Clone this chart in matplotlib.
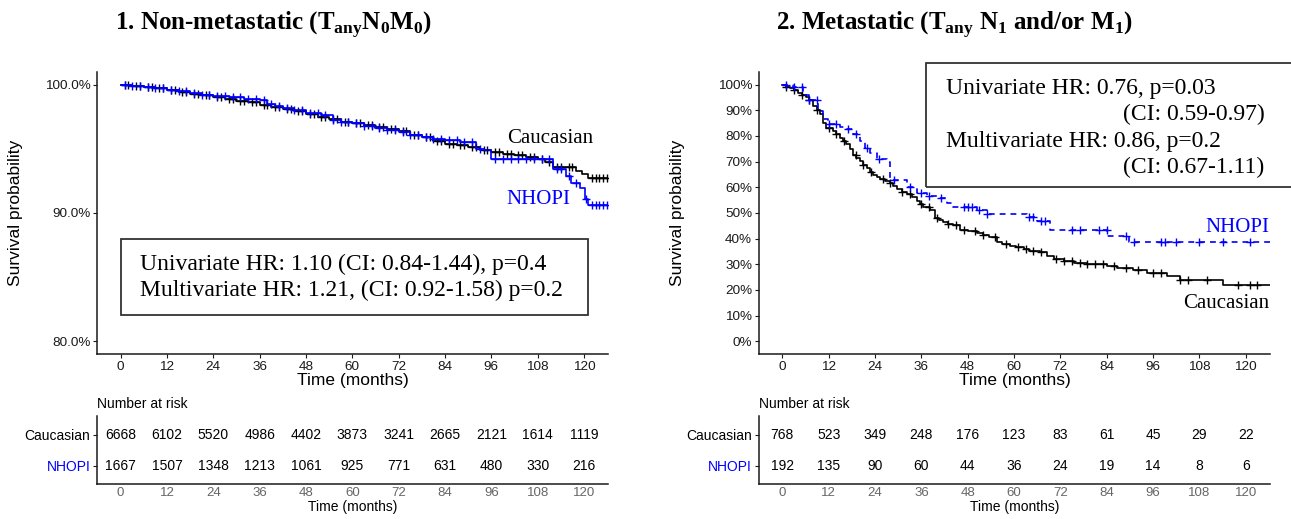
import numpy as np
import matplotlib
matplotlib.use('Agg')
import matplotlib.pyplot as plt
from matplotlib.patches import Rectangle

plt.rcParams['font.family'] = ['Liberation Sans', 'DejaVu Sans']
plt.rcParams['mathtext.fontset'] = 'custom'
plt.rcParams['mathtext.rm'] = 'Liberation Serif'
plt.rcParams['mathtext.bf'] = 'Liberation Serif:bold'

# ---------------- data ----------------
months = [0, 12, 24, 36, 48, 60, 72, 84, 96, 108, 120]
groups = ['Caucasian', 'NHOPI']

# panel 1: non-metastatic, survival in %
t_cau1 = [0, 3, 6, 9, 12, 15, 18, 21, 24, 27, 30, 33, 36, 39, 42, 45, 48, 51, 54, 57,
          60, 63, 66, 69, 72, 75, 78, 81, 84, 87, 90, 93, 96, 99, 102, 105, 108, 110,
          112, 118, 119.5, 121]
s_cau1 = [100, 99.9, 99.8, 99.7, 99.6, 99.45, 99.3, 99.15, 99.0, 98.9, 98.75, 98.6, 98.4,
          98.25, 98.1, 97.9, 97.7, 97.5, 97.3, 97.1, 97.0, 96.85, 96.7, 96.5, 96.35, 96.1,
          95.9, 95.6, 95.4, 95.25, 95.1, 94.9, 94.75, 94.6, 94.5, 94.35, 94.2, 94.0,
          93.6, 93.3, 93.0, 92.7]
t_nh1 = [0, 3, 6, 9, 12, 15, 18, 21, 24, 28, 32, 36, 38, 40, 42, 45, 48, 52, 55, 57, 60,
         63, 66, 69, 72, 75, 78, 81, 84, 88, 92, 94, 96, 112, 115.4, 116.7, 118.9, 120.2, 121]
s_nh1 = [100, 99.9, 99.8, 99.7, 99.6, 99.5, 99.35, 99.2, 99.1, 99.0, 98.9, 98.8, 98.5,
         98.35, 98.2, 98.0, 97.8, 97.6, 97.2, 97.1, 97.0, 96.8, 96.6, 96.45, 96.3, 96.1,
         95.9, 95.75, 95.65, 95.5, 95.0, 94.9, 94.2, 93.45, 92.9, 92.3, 91.9, 91.1, 90.6]
c_cau1 = [1, 2, 4, 5, 7, 8, 10, 11, 13, 14, 16, 17, 19, 20, 22, 23, 25, 26, 28, 29, 31, 32,
          34, 35, 37, 38, 40, 41, 43, 44, 46, 47, 49, 50, 52, 53, 55, 56, 58, 59, 61, 62,
          64, 65, 67, 68, 70, 71, 73, 74, 76, 77, 79, 80, 82, 83, 85, 86, 88, 89, 91, 92,
          94, 95, 97, 98, 100, 101, 103, 104, 106, 107, 109, 111, 113, 114, 116, 117,
          122, 123, 124, 125, 126]
c_nh1 = [1, 3, 5, 7, 9, 11, 13, 15, 17, 19, 21, 23, 25, 27, 29, 31, 33, 35, 37, 39, 41,
         43, 45, 47, 49, 51, 53, 55, 57, 59, 61, 63, 65, 67, 69, 71, 73, 75, 77, 79, 81,
         83, 85, 87, 89, 91, 93, 97, 99, 101, 103, 105, 107, 109, 111, 113, 114, 116,
         118, 120.5, 122, 123, 124, 125, 126]
risk_cau1 = [6668, 6102, 5520, 4986, 4402, 3873, 3241, 2665, 2121, 1614, 1119]
risk_nh1 = [1667, 1507, 1348, 1213, 1061, 925, 771, 631, 480, 330, 216]

# panel 2: metastatic, survival in %
t_cau2 = [0, 1, 2, 3, 4, 5, 6, 7, 8, 9, 9.7, 10.5, 11.4, 13.1, 14, 14.8, 15.6, 16.5,
          17.4, 18.3, 19.1, 20, 21, 21.8, 22.6, 23.5, 24.4, 25.2, 26.5, 27.8, 28.7, 29.6,
          31, 32.2, 33.5, 34.8, 35.6, 36.5, 38.3, 39.6, 40.5, 41.7, 43, 44.3, 46.1, 48,
          50.4, 52, 53.4, 55.6, 57, 59, 60.5, 62.5, 64, 66.8, 68.6, 70.3, 72.9, 75.5, 79,
          84, 86.6, 90.9, 94.4, 99.5, 103, 114.2]
s_cau2 = [100, 99.2, 98.5, 97.8, 96.8, 95.8, 95.1, 93.8, 91.8, 90.0, 88.5, 85.2, 83.2,
          81.9, 80.6, 79.3, 78.0, 76.7, 74.7, 72.7, 71.4, 70.1, 68.7, 67.4, 66.1, 64.8,
          63.9, 63.1, 62.3, 61.5, 60.3, 59.1, 58.2, 57.3, 56.0, 54.7, 53.5, 52.3, 51.2,
          48.1, 47.2, 46.4, 45.7, 45.1, 43.5, 42.8, 42.1, 41.2, 40.4, 38.5, 37.9, 37.2,
          36.5, 35.8, 35.3, 34.9, 33.2, 32.1, 31.2, 30.3, 29.9, 29.2, 28.6, 27.9, 26.6,
          25.3, 24.0, 22.0]
t_nh2 = [0, 2.85, 5.4, 7, 9.2, 10.5, 11.8, 14.8, 16.5, 18.3, 20, 21.3, 22.6, 24.4, 27,
         27.8, 32.2, 34.8, 37.4, 40, 42.6, 44.3, 50.4, 53, 63.3, 65.9, 69.4, 84.1, 89.8]
s_nh2 = [100, 98.9, 95.8, 93.8, 89.8, 86.6, 84.8, 83.6, 82.6, 80.6, 78, 75.3, 73.4, 71.1,
         69.8, 62.8, 60.2, 57.6, 56.5, 55.6, 53.9, 52.3, 51.0, 49.6, 48.3, 46.8, 43.5,
         41.1, 38.5]
c_cau2 = [1, 3, 5, 7, 9, 12, 14, 16, 19, 21, 23, 26, 28, 31, 33, 36, 38, 40, 43, 45, 47,
          50, 52, 55, 58, 61, 63, 65, 67, 71, 73, 75, 77, 79, 81, 83, 86, 89, 92, 96, 98,
          103, 105, 110, 118, 121, 123]
c_nh2 = [1, 3, 5, 7, 9, 12, 14, 17, 19, 22, 25, 29, 33, 36, 38, 41, 47, 48, 49, 51, 53,
         64, 65, 67, 68, 75, 77, 82, 84, 89, 91, 98, 99, 102, 108, 114, 121]
risk_cau2 = [768, 523, 349, 248, 176, 123, 83, 61, 45, 29, 22]
risk_nh2 = [192, 135, 90, 60, 44, 36, 24, 19, 14, 8, 6]

# ---------------- layout helpers (pixel positions) ----------------
W, H = 1291, 519
fig = plt.figure(figsize=(W / 100, H / 100), dpi=100)


def fx(x):
    return x / W


def fy(y):
    return 1 - y / H


XMIN, XMAX = -6.05, 126.3
AX_TOP, AX_BOT = 71.7, 354
TB_TOP, TB_BOT = 415.7, 484
AX_W = 511


def style_axes(ax):
    for sp in ['top', 'right']:
        ax.spines[sp].set_visible(False)
    for sp in ['left', 'bottom']:
        ax.spines[sp].set_linewidth(1.1)
        ax.spines[sp].set_color('#1a1a1a')
    ax.tick_params(length=3, width=0.8, color='#1a1a1a', labelcolor='#1a1a1a',
                   labelsize=9.7, pad=2)


def km(ax, t, s, cens, color, ls='-'):
    t = np.array(t)
    s = np.array(s)
    ax.step(np.append(t, XMAX), np.append(s, s[-1]), where='post', color=color,
            lw=1.2, ls=ls)
    idx = np.searchsorted(t, cens, side='right') - 1
    ax.plot(cens, s[idx], ls='none', marker='+', ms=5.5, mew=1.0, color=color)


def risk_table(left, risk_a, risk_b):
    tb = fig.add_axes([fx(left), fy(TB_BOT), AX_W / W, (TB_BOT - TB_TOP) / H])
    style_axes(tb)
    tb.set_xlim(XMIN, XMAX)
    tb.set_ylim(-0.6, 1.63)
    tb.set_xticks(months)
    tb.tick_params(axis='x', labelcolor='#666666', labelsize=9.5, length=0)
    tb.set_yticks([1, 0])
    tb.set_yticklabels(groups, fontsize=10)
    tb.get_yticklabels()[0].set_color('black')
    tb.get_yticklabels()[1].set_color('blue')
    tb.set_xlabel('Time (months)', fontsize=10, labelpad=1)
    for m, a, b in zip(months, risk_a, risk_b):
        tb.text(m, 1, str(a), ha='center', va='center', fontsize=10)
        tb.text(m, 0, str(b), ha='center', va='center', fontsize=10)
    fig.text(fx(left), fy(404), 'Number at risk', fontsize=10, va='center')
    return tb


serif = 'Liberation Serif'

# ---------------- panel 1 ----------------
ax1 = fig.add_axes([fx(97.3), fy(AX_BOT), AX_W / W, (AX_BOT - AX_TOP) / H])
style_axes(ax1)
km(ax1, t_cau1, s_cau1, c_cau1, 'black')
km(ax1, t_nh1, s_nh1, c_nh1, 'blue')
ax1.set_xlim(XMIN, XMAX)
ax1.set_ylim(79, 101)
ax1.set_xticks(months)
ax1.set_yticks([80, 90, 100])
ax1.set_yticklabels(['80.0%', '90.0%', '100.0%'])
fig.text(fx(352.8), fy(380.5), 'Time (months)', fontsize=12.5, ha='center', va='center')
fig.text(fx(15.8), fy(212.9), 'Survival probability', fontsize=12.5, rotation=90,
         ha='center', va='center')
fig.text(fx(506.7), fy(143.3), 'Caucasian', family=serif, fontsize=15, va='baseline')
fig.text(fx(506.7), fy(204), 'NHOPI', family=serif, fontsize=15, va='baseline',
         color='blue')
fig.add_artist(Rectangle((fx(120.7), fy(315)), (587.7 - 120.7) / W, (315 - 239) / H,
                         transform=fig.transFigure, fill=False, ec='#333333', lw=1.3))
fig.text(fx(140), fy(270), 'Univariate HR: 1.10 (CI: 0.84-1.44), p=0.4', family=serif,
         fontsize=17, va='baseline')
fig.text(fx(140), fy(295.7), 'Multivariate HR: 1.21, (CI: 0.92-1.58) p=0.2',
         family=serif, fontsize=17, va='baseline')
fig.text(fx(274), fy(30),
         r'1. Non-metastatic (T$_{\mathbf{any}}$N$_{\mathbf{0}}$M$_{\mathbf{0}}$)',
         family=serif, fontweight='bold', fontsize=18, ha='center', va='baseline')
risk_table(97.3, risk_cau1, risk_nh1)

# ---------------- panel 2 ----------------
ax2 = fig.add_axes([fx(759), fy(AX_BOT), AX_W / W, (AX_BOT - AX_TOP) / H])
style_axes(ax2)
km(ax2, t_cau2, s_cau2, c_cau2, 'black')
km(ax2, t_nh2, s_nh2, c_nh2, 'blue', ls=(0, (3.5, 3)))
ax2.set_xlim(XMIN, XMAX)
ax2.set_ylim(-5, 105)
ax2.set_xticks(months)
ax2.set_yticks(range(0, 101, 10))
ax2.set_yticklabels(['%d%%' % v for v in range(0, 101, 10)])
fig.text(fx(1014.5), fy(380.5), 'Time (months)', fontsize=12.5, ha='center', va='center')
fig.text(fx(677.5), fy(212.9), 'Survival probability', fontsize=12.5, rotation=90,
         ha='center', va='center')
fig.text(fx(1269), fy(231.7), 'NHOPI', family=serif, fontsize=15, va='baseline',
         ha='right', color='blue')
fig.text(fx(1269), fy(308.3), 'Caucasian', family=serif, fontsize=15, va='baseline',
         ha='right')
fig.add_artist(Rectangle((fx(926), fy(187.3)), (1300 - 926) / W, (187.3 - 62.7) / H,
                         transform=fig.transFigure, fill=False, ec='#333333', lw=1.3))
fig.text(fx(945.7), fy(94), 'Univariate HR: 0.76, p=0.03', family=serif, fontsize=17,
         va='baseline')
fig.text(fx(1264.3), fy(120), '(CI: 0.59-0.97)', family=serif, fontsize=17,
         va='baseline', ha='right')
fig.text(fx(945.7), fy(146.7), 'Multivariate HR: 0.86, p=0.2', family=serif, fontsize=17,
         va='baseline')
fig.text(fx(1264.3), fy(172.7), '(CI: 0.67-1.11)', family=serif, fontsize=17,
         va='baseline', ha='right')
fig.text(fx(954), fy(30),
         r'2. Metastatic (T$_{\mathbf{any}}$ N$_{\mathbf{1}}$ and/or M$_{\mathbf{1}}$)',
         family=serif, fontweight='bold', fontsize=18, ha='center', va='baseline')
risk_table(759, risk_cau2, risk_nh2)

fig.savefig('out.png', dpi=100)
